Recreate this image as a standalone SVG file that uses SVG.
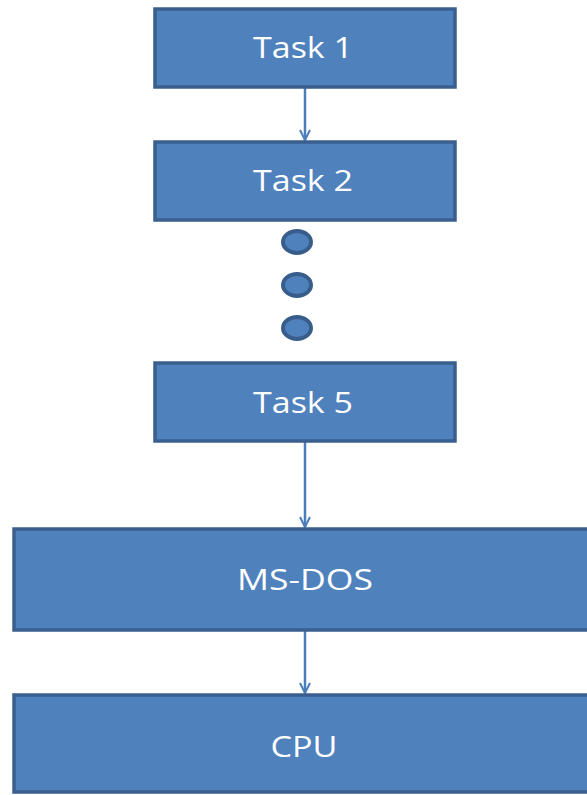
<svg xmlns="http://www.w3.org/2000/svg" width="587" height="795" viewBox="0 0 587 795">
<style>
.box{fill:#4F81BD;stroke:#3A5F8F;stroke-width:3.5}
.dot{fill:#4F81BD;stroke:#385D8A;stroke-width:4}
.lbl{font-family:"Open Sans","Liberation Sans",sans-serif;font-size:29px;fill:#FFFFFF;text-anchor:middle}
.conn{stroke:#4A7EBB;stroke-width:2.5;fill:none}
</style>
<defs>
<marker id="arr" viewBox="0 0 12 12" refX="11" refY="6" markerWidth="12" markerHeight="12" markerUnits="userSpaceOnUse" orient="auto">
<path d="M1,1 L11,6 L1,11" fill="none" stroke="#4A7EBB" stroke-width="2"/>
</marker>
</defs>
<rect width="587" height="795" fill="#FFFFFF"/>
<g id="connectors">
<line class="conn" x1="305" y1="88" x2="305" y2="140" marker-end="url(#arr)"/>
<line class="conn" x1="305" y1="442" x2="305" y2="527" marker-end="url(#arr)"/>
<line class="conn" x1="305" y1="631" x2="305" y2="693" marker-end="url(#arr)"/>
</g>
<g id="task1"><rect class="box" x="155" y="9" width="300" height="78"/><text class="lbl" x="303" y="58" textLength="100" lengthAdjust="spacingAndGlyphs">Task 1</text></g>
<g id="task2"><rect class="box" x="155" y="142" width="300" height="78"/><text class="lbl" x="303" y="191" textLength="100" lengthAdjust="spacingAndGlyphs">Task 2</text></g>
<g id="dots">
<ellipse class="dot" cx="297" cy="242" rx="14" ry="11"/>
<ellipse class="dot" cx="297" cy="285" rx="14" ry="11"/>
<ellipse class="dot" cx="297" cy="328" rx="14" ry="11"/>
</g>
<g id="task5"><rect class="box" x="155" y="363" width="300" height="78"/><text class="lbl" x="303" y="413" textLength="100" lengthAdjust="spacingAndGlyphs">Task 5</text></g>
<g id="msdos"><rect class="box" x="14" y="529" width="580" height="101"/><text class="lbl" x="305" y="590" textLength="136" lengthAdjust="spacingAndGlyphs">MS-DOS</text></g>
<g id="cpu"><rect class="box" x="14" y="695" width="580" height="97"/><text class="lbl" x="304" y="757" textLength="67" lengthAdjust="spacingAndGlyphs">CPU</text></g>
</svg>
